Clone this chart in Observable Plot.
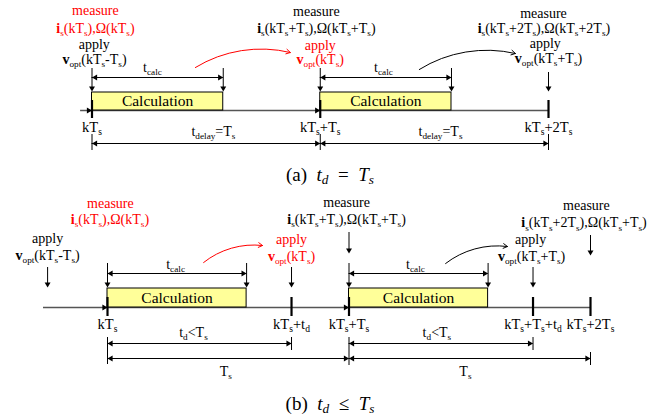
<!DOCTYPE html>
<html><head><meta charset="utf-8">
<script src="https://cdn.jsdelivr.net/npm/d3@7"></script>
<script src="https://cdn.jsdelivr.net/npm/@observablehq/plot@0.6"></script>
<style>
body{margin:0;background:#fff;width:671px;height:420px;overflow:hidden}
svg{display:block}
svg text, svg tspan{font-family:"Liberation Serif",serif !important}
.cap{font-family:"Liberation Serif",serif;font-size:19px;line-height:26px;height:26px;text-align:center;padding-right:11px;white-space:nowrap}
.cap sub{font-size:70%;vertical-align:-0.25em;line-height:0}
</style>
</head><body><div id="chart"></div>
<script>
// ===== DATA (time in units of Ts, measured from kTs) =====
// Panel (a): t_d = T_s
const aInstants = [0, 1, 2];
const aInstantLabels = ["kT_{s}", "kT_{s}+T_{s}", "kT_{s}+2T_{s}"];
const aCalcStarts = [0, 1];
const aCalcLength = 0.575;
const aDelayStarts = [0, 1];
const aDelayLength = 1;
const aDelayLabel = "t_{delay}=T_{s}";
const aDelayLabelAt = [0.532, 1.527];
const aCalcLabelAt = [0.265, 1.277];
const aNotes = [
  {t: 0.015, row: "m1", text: "measure", red: true},
  {t: 0.015, row: "i1", text: "*i*_{s}(kT_{s}),Ω(kT_{s})", red: true},
  {t: 0.010, row: "a1", text: "apply"},
  {t: 0.011, row: "v1", text: "*v*_{opt}(kT_{s}-T_{s})"},
  {t: 0.983, row: "m2", text: "measure"},
  {t: 0.983, row: "i2", text: "*i*_{s}(kT_{s}+T_{s}),Ω(kT_{s}+T_{s})"},
  {t: 1.000, row: "a2", text: "apply", red: true},
  {t: 1.000, row: "v2", text: "*v*_{opt}(kT_{s})", red: true},
  {t: 1.978, row: "m3", text: "measure"},
  {t: 1.980, row: "i3", text: "*i*_{s}(kT_{s}+2T_{s}),Ω(kT_{s}+2T_{s})"},
  {t: 1.986, row: "a3", text: "apply"},
  {t: 2.000, row: "v3", text: "*v*_{opt}(kT_{s}+T_{s})"}
];
const aApplyArrows = [2];
const aCurves = [
  {from: 0.453, to: 0.869, red: true},
  {from: 1.434, to: 1.855, red: false}
];

// Panel (b): t_d <= T_s
const bTd = 0.762;
const bInstants = [0, 0.762, 1, 1.762, 2];
const bInstantLabels = ["kT_{s}", "kT_{s}+t_{d}", "kT_{s}+T_{s}", "kT_{s}+T_{s}+t_{d}", "kT_{s}+2T_{s}"];
const bCalcStarts = [0, 1];
const bCalcLength = 0.576;
const bCalcLabelAt = [0.282, 1.275];
const bTdLabel = "t_{d}<T_{s}";
const bTdLabelAt = [0.356, 1.364];
const bTsLabel = "T_{s}";
const bTsLabelAt = [0.49, 1.482];
const bNotes = [
  {t: 0.012, row: "m1", text: "measure", red: true},
  {t: 0.010, row: "i1", text: "*i*_{s}(kT_{s}),Ω(kT_{s})", red: true},
  {t: -0.248, row: "a0", text: "apply"},
  {t: -0.248, row: "v0", text: "*v*_{opt}(kT_{s}-T_{s})"},
  {t: 0.762, row: "a1", text: "apply", red: true},
  {t: 0.762, row: "v1", text: "*v*_{opt}(kT_{s})", red: true},
  {t: 0.990, row: "m2", text: "measure"},
  {t: 0.990, row: "i2", text: "*i*_{s}(kT_{s}+T_{s}),Ω(kT_{s}+T_{s})"},
  {t: 1.752, row: "a1", text: "apply"},
  {t: 1.756, row: "v1", text: "*v*_{opt}(kT_{s}+T_{s})"},
  {t: 1.983, row: "m3", text: "measure"},
  {t: 1.973, row: "i3", text: "*i*_{s}(kT_{s}+2T_{s}),Ω(kT_{s}+T_{s})"}
];
const bApplyArrows = [
  {t: -0.248, kind: "apply"}, {t: 0.762, kind: "apply"}, {t: 1.762, kind: "apply"},
  {t: 1, kind: "meas2"}, {t: 2, kind: "meas3"}
];
const bCurves = [
  {from: 0.398, to: 0.642, red: true},
  {from: 1.40, to: 1.656, red: false}
];

// ===== LAYOUT / STYLE =====
const RED = "#ff0000";
const FONT = "Liberation Serif";
const FS = 14;
const LA = {
  top: 0, height: 162, xRange: [91.5, 548], axisStart: -0.05, axisY: 110, boxTop: 92,
  tickY: [100, 118], calcDimY: 77, calcVertY1: 68,
  rows: {m1: 14.5, i1: 32, a1: 48.5, v1: 63, m2: 15, i2: 32, a2: 49, v2: 63, m3: 17, i3: 32.5, a3: 47.5, v3: 62},
  calcLabelBase: 71, instantBase: 131, dimLabelBase: 135.5, dimY: 143, dimVert: [134, 150],
  applyY: [72, 91], curveY: [[67, 52], [69, 53]]
};
const LB = {
  top: 188, height: 203, xRange: [107, 590], axisStart: -0.265, axisY: 307, boxTop: 288,
  tickY: [297, 316], calcDimY: 273, calcVertY1: 263,
  rows: {m1: 207, i1: 223, a0: 242, v0: 259, a1: 243, v1: 260, m2: 206.7, i2: 223, m3: 209, i3: 226.7},
  calcLabelBase: 268, instantBase: 328, tdLabelBase: 336, tdY: 343, tsY: 358, tsLabelBase: 375,
  arrowY: {apply: [267, 287], meas2: [232, 253], meas3: [235, 255]},
  curveY: [[262, 245], [263, 246]]
};

// ===== helpers =====
const yc = (base, size = FS) => base - 0.32 * size;
function tri(data, dir) {
  const rot = {right: 90, left: -90, down: 180}[dir];
  const off = 3.4;
  return Plot.dot(data, {
    x: "t", y: "y", symbol: "triangle", r: 2.2, fill: "#000", stroke: "none", rotate: rot,
    dx: dir === "right" ? -off : dir === "left" ? off : 0, dy: dir === "down" ? -off : 0
  });
}
function textMark(data, opts) {
  return Plot.text(data, {x: "t", y: "y", text: "text", fontSize: FS, fontFamily: FONT, textAnchor: "middle", lineAnchor: "middle", ...opts});
}
function dimension(spans, y) {
  return [
    Plot.ruleY(spans, {x1: "t1", x2: "t2", y: () => y, stroke: "#000", strokeWidth: 1}),
    tri(spans.map(s => ({t: s.t1, y})), "left"),
    tri(spans.map(s => ({t: s.t2, y})), "right")
  ];
}
function commonMarks(L, calcStarts, calcLen, calcLabelAt, instants, instantLabels, notes, curves, axisEnd) {
  const edges = calcStarts.flatMap(s => [s, s + calcLen]);
  const tip = L.boxTop - 1;
  return [
    Plot.ruleY([L.axisY], {x1: L.axisStart, x2: axisEnd, stroke: "#555", strokeWidth: 1.4}),
    tri(calcStarts.map(t => ({t, y: L.axisY})), "right"),
    Plot.rect(calcStarts, {x1: d => d, x2: d => d + calcLen, y1: L.boxTop, y2: L.axisY, fill: "#ffff99", stroke: "#000", strokeWidth: 1}),
    Plot.text(calcStarts, {x: d => d + calcLen / 2, y: (L.boxTop + L.axisY) / 2, text: () => "Calculation", fontSize: 15.5, fontFamily: FONT, fill: "#000"}),
    Plot.ruleX(instants, {x: d => d, y1: L.tickY[0], y2: L.tickY[1], stroke: "#000", strokeWidth: 2.2}),
    // t_calc dimension
    Plot.ruleX(edges, {x: d => d, y1: L.calcVertY1, y2: tip - 2, stroke: "#000", strokeWidth: 1}),
    tri(edges.map(t => ({t, y: tip})), "down"),
    ...dimension(calcStarts.map(s => ({t1: s, t2: s + calcLen})), L.calcDimY),
    textMark(calcLabelAt.map(t => ({t, y: yc(L.calcLabelBase), text: "t_{calc}"})), {fill: "#000"}),
    // instant labels
    textMark(instants.map((t, i) => ({t, y: yc(L.instantBase, 14.5), text: instantLabels[i]})), {fill: "#000", fontSize: 14.5}),
    // notes
    textMark(notes.filter(d => !d.red).map(d => ({t: d.t, y: yc(L.rows[d.row]), text: d.text})), {fill: "#000"}),
    textMark(notes.filter(d => d.red).map(d => ({t: d.t, y: yc(L.rows[d.row]), text: d.text})), {fill: RED}),
    // curved arrows
    ...curves.map((c, i) => Plot.arrow([c], {
      x1: "from", x2: "to", y1: () => L.curveY[i][0], y2: () => L.curveY[i][1],
      bend: true, headLength: 7, stroke: c.red ? RED : "#000", strokeWidth: 1
    }))
  ];
}

// ===== panel (a) =====
const marksA = [
  ...commonMarks(LA, aCalcStarts, aCalcLength, aCalcLabelAt, aInstants, aInstantLabels, aNotes, aCurves, 2),
  Plot.ruleX(aApplyArrows, {x: d => d, y1: LA.applyY[0], y2: LA.applyY[1] - 2, stroke: "#000"}),
  tri(aApplyArrows.map(t => ({t, y: LA.applyY[1]})), "down"),
  Plot.ruleX(aInstants, {x: d => d, y1: LA.dimVert[0], y2: LA.dimVert[1], stroke: "#000"}),
  ...dimension(aDelayStarts.map(s => ({t1: s, t2: s + aDelayLength})), LA.dimY),
  textMark(aDelayLabelAt.map(t => ({t, y: yc(LA.dimLabelBase), text: aDelayLabel})), {fill: "#000"})
];

// ===== panel (b) =====
const bVerts = [
  {t: 0, y1: 337, y2: 364}, {t: bTd, y1: 337, y2: 350}, {t: 1, y1: 337, y2: 365},
  {t: 1 + bTd, y1: 337, y2: 350}, {t: 2, y1: 352, y2: 365}
];
const marksB = [
  ...commonMarks(LB, bCalcStarts, bCalcLength, bCalcLabelAt, bInstants, bInstantLabels, bNotes, bCurves, 2),
  Plot.ruleX(bApplyArrows, {x: "t", y1: d => LB.arrowY[d.kind][0], y2: d => LB.arrowY[d.kind][1] - 2, stroke: "#000"}),
  tri(bApplyArrows.map(d => ({t: d.t, y: LB.arrowY[d.kind][1]})), "down"),
  Plot.ruleX(bVerts, {x: "t", y1: "y1", y2: "y2", stroke: "#000"}),
  ...dimension(bCalcStarts.map(s => ({t1: s, t2: s + bTd})), LB.tdY),
  ...dimension(bCalcStarts.map(s => ({t1: s, t2: s + 1})), LB.tsY),
  textMark(bTdLabelAt.map(t => ({t, y: yc(LB.tdLabelBase), text: bTdLabel})), {fill: "#000"}),
  textMark(bTsLabelAt.map(t => ({t, y: yc(LB.tsLabelBase), text: bTsLabel})), {fill: "#000"})
];

function makePlot(L, marks) {
  return Plot.plot({
    width: 671, height: L.height, margin: 0,
    x: {domain: [0, 2], range: L.xRange, axis: null},
    y: {domain: [L.top, L.top + L.height], range: [0, L.height], axis: null},
    style: {fontFamily: FONT, background: "#fff", overflow: "visible", color: "#000"},
    marks
  });
}

// rich text: *bold*, /italic/, _{subscript}
function parse(s) {
  const segs = []; let b = false, it = false, sub = false, buf = "";
  const push = () => { if (buf) { segs.push({t: buf, b, it, sub}); buf = ""; } };
  for (let k = 0; k < s.length; k++) {
    const c = s[k];
    if (c === "*") { push(); b = !b; }
    else if (c === "/") { push(); it = !it; }
    else if (c === "_" && s[k + 1] === "{") { push(); sub = true; k++; }
    else if (c === "}" && sub) { push(); sub = false; }
    else buf += c;
  }
  push();
  return segs;
}
function rich(svg) {
  const SH = 0.24, SZ = 0.66;
  svg.querySelectorAll("text").forEach(el => {
    const s = el.textContent;
    if (!/[_*\/]/.test(s)) return;
    const segs = parse(s);
    while (el.firstChild) el.removeChild(el.firstChild);
    let inSub = false;
    for (const g of segs) {
      const ts = document.createElementNS("http://www.w3.org/2000/svg", "tspan");
      if (g.b) ts.setAttribute("font-weight", "bold");
      if (g.it) ts.setAttribute("font-style", "italic");
      if (g.sub) {
        ts.setAttribute("font-size", (SZ * 100) + "%");
        if (!inSub) ts.setAttribute("dy", (SH / SZ).toFixed(3) + "em");
      } else if (inSub) ts.setAttribute("dy", (-SH).toFixed(3) + "em");
      inSub = g.sub;
      ts.textContent = g.t;
      el.appendChild(ts);
    }
  });
}

const root = document.getElementById("chart");
const svgA = makePlot(LA, marksA);
root.appendChild(svgA); rich(svgA);
const capA = document.createElement("div");
capA.className = "cap";
capA.innerHTML = "(a)&ensp;<i>t</i><sub><i>d</i></sub>&ensp;=&ensp;<i>T</i><sub><i>s</i></sub>";
root.appendChild(capA);
const svgB = makePlot(LB, marksB);
root.appendChild(svgB); rich(svgB);
const capB = document.createElement("div");
capB.className = "cap";
capB.innerHTML = "(b)&ensp;<i>t</i><sub><i>d</i></sub>&ensp;≤&ensp;<i>T</i><sub><i>s</i></sub>";
root.appendChild(capB);
</script>
</body></html>
